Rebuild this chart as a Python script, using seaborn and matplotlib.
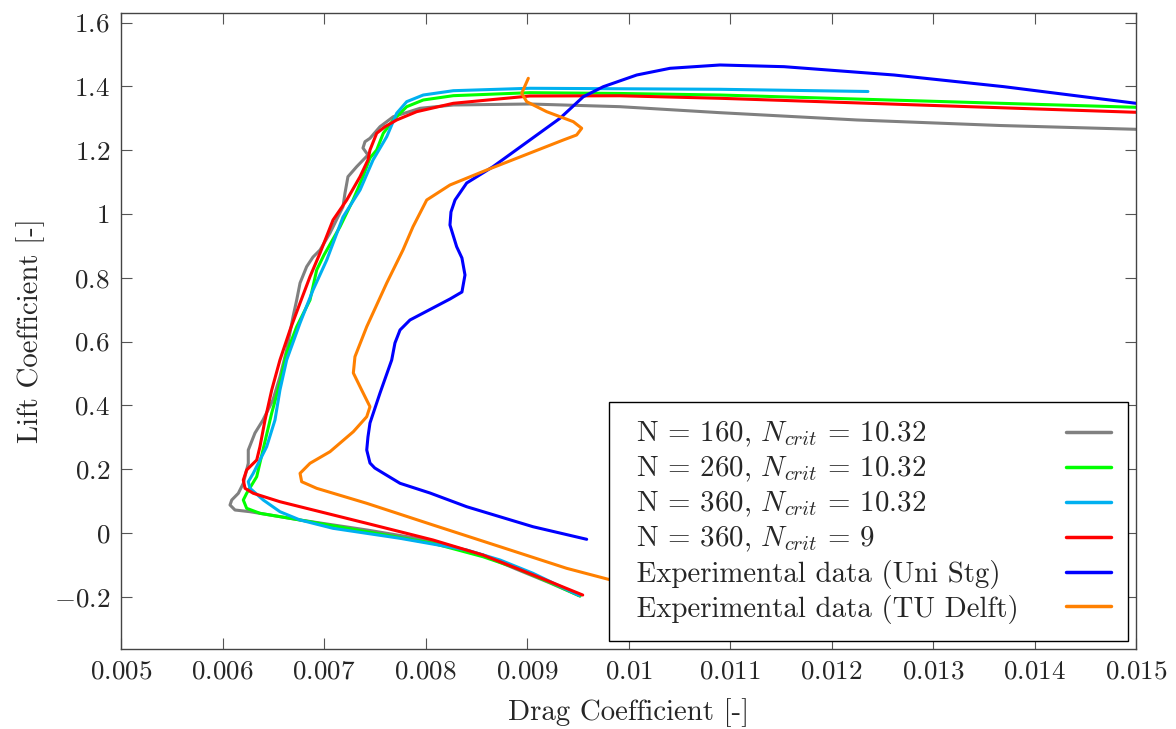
import numpy as np
import pandas as pd
import matplotlib
matplotlib.use("Agg")
import matplotlib.pyplot as plt
import seaborn as sns

# ---------------- data ----------------
labels = [
    r"N = 160, $N_{crit}$ = 10.32",
    r"N = 260, $N_{crit}$ = 10.32",
    r"N = 360, $N_{crit}$ = 10.32",
    r"N = 360, $N_{crit}$ = 9",
    "Experimental data (Uni Stg)",
    "Experimental data (TU Delft)",
]
colors = ["#808080", "#00FF00", "#00B0F0", "#FF0000", "#0000FF", "#FF8000"]

cd_n160 = [0.009522, 0.009227, 0.008892, 0.008566, 0.008074, 0.007424, 0.006764, 0.006271,
           0.006123, 0.006074, 0.006091, 0.006156, 0.006205, 0.006254, 0.006254, 0.006320,
           0.006399, 0.006497, 0.006566, 0.006632, 0.006695, 0.006731, 0.006764, 0.006829,
           0.006892, 0.006961, 0.007059, 0.007187, 0.007207, 0.007236, 0.007322, 0.007433,
           0.007384, 0.007404, 0.007453, 0.007552, 0.007683, 0.007946, 0.008274, 0.009029,
           0.009916, 0.010901, 0.012251, 0.013660, 0.015000, 0.015240]
cl_n160 = [-0.1975, -0.1567, -0.1129, -0.0690, -0.0251, 0.0094, 0.0408, 0.0668,
           0.0721, 0.0878, 0.1034, 0.1245, 0.1558, 0.2185, 0.2602, 0.3135,
           0.3542, 0.4169, 0.4900, 0.5737, 0.6781, 0.7304, 0.7837, 0.8348,
           0.8652, 0.8871, 0.9404, 1.0229, 1.0658, 1.1169, 1.1483, 1.1850,
           1.2069, 1.2267, 1.2373, 1.2737, 1.3050, 1.3313, 1.3417, 1.3448,
           1.3364, 1.3176, 1.2947, 1.2774, 1.2655, 1.2634]

cd_n260 = [0.009522, 0.009227, 0.008892, 0.008566, 0.008074, 0.007421, 0.006764, 0.006369,
           0.006238, 0.006205, 0.006238, 0.006337, 0.006394, 0.006485, 0.006566, 0.006632,
           0.006731, 0.006862, 0.006928, 0.007000, 0.007158, 0.007286, 0.007384, 0.007453,
           0.007519, 0.007584, 0.007683, 0.007815, 0.007978, 0.008274, 0.009029, 0.009916,
           0.010901, 0.015000, 0.015240]
cl_n260 = [-0.1975, -0.1552, -0.1097, -0.0743, -0.0323, 0.0041, 0.0408, 0.0618,
           0.0774, 0.1034, 0.1245, 0.1765, 0.2539, 0.3762, 0.4702, 0.5643,
           0.6467, 0.7304, 0.8245, 0.8715, 0.9602, 1.0439, 1.1169, 1.1756,
           1.2006, 1.2530, 1.2947, 1.3364, 1.3574, 1.3709, 1.3803, 1.3778,
           1.3730, 1.3345, 1.3336]

cd_n360 = [0.009515, 0.009059, 0.008734, 0.008406, 0.007749, 0.007089, 0.006764, 0.006566,
           0.006402, 0.006271, 0.006254, 0.006303, 0.006435, 0.006517, 0.006566, 0.006632,
           0.006764, 0.006892, 0.007027, 0.007187, 0.007355, 0.007483, 0.007618, 0.007716,
           0.007815, 0.007978, 0.008274, 0.009029, 0.010901, 0.012359]
cl_n360 = [-0.1959, -0.1263, -0.0846, -0.0533, -0.0166, 0.0147, 0.0408, 0.0668,
           0.1034, 0.1401, 0.1608, 0.1871, 0.2705, 0.3542, 0.4483, 0.5423,
           0.6583, 0.7618, 0.8558, 0.9906, 1.0752, 1.1693, 1.2423, 1.3157,
           1.3521, 1.3730, 1.3865, 1.3941, 1.3909, 1.3840]

cd_n360_9 = [0.009549, 0.009227, 0.008898, 0.008566, 0.008074, 0.007421, 0.006764, 0.006566,
             0.006303, 0.006222, 0.006205, 0.006238, 0.006337, 0.006369, 0.006419, 0.006485,
             0.006566, 0.006665, 0.006764, 0.006862, 0.006961, 0.007089, 0.007224, 0.007355,
             0.007433, 0.007453, 0.007519, 0.007601, 0.007716, 0.007913, 0.008274, 0.009029,
             0.009916, 0.010901, 0.015000, 0.015240]
cl_n360_9 = [-0.1944, -0.1527, -0.1107, -0.0690, -0.0219, 0.0304, 0.0824, 0.0981,
             0.1245, 0.1401, 0.1661, 0.1975, 0.2288, 0.2705, 0.3542, 0.4483,
             0.5423, 0.6364, 0.7210, 0.8035, 0.8777, 0.9812, 1.0439, 1.1169,
             1.1693, 1.2006, 1.2530, 1.2737, 1.2947, 1.3207, 1.3470, 1.3699,
             1.3706, 1.3627, 1.3188, 1.3173]

cd_stg = [0.009588, 0.009059, 0.008406, 0.008044, 0.007749, 0.007581, 0.007500, 0.007453,
          0.007421, 0.007433, 0.007453, 0.007552, 0.007667, 0.007699, 0.007749, 0.007847,
          0.008241, 0.008359, 0.008389, 0.008359, 0.008307, 0.008241, 0.008251, 0.008291,
          0.008406, 0.008665, 0.009029, 0.009325, 0.009555, 0.009752, 0.010081, 0.010409,
          0.010901, 0.011532, 0.012616, 0.013699, 0.015000, 0.015240]
cl_stg = [-0.0197, 0.0197, 0.0824, 0.1254, 0.1558, 0.1881, 0.2038, 0.2194,
          0.2602, 0.3009, 0.3448, 0.4389, 0.5423, 0.5956, 0.6364, 0.6677,
          0.7335, 0.7555, 0.8088, 0.8621, 0.8975, 0.9655, 1.0063, 1.0439,
          1.0972, 1.1483, 1.2320, 1.3000, 1.3677, 1.3991, 1.4357, 1.4567,
          1.4671, 1.4618, 1.4357, 1.3991, 1.3470, 1.3370]

cd_delft = [0.010113, 0.009827, 0.009391, 0.008734, 0.008074, 0.007421, 0.006928, 0.006780,
            0.006764, 0.006862, 0.007059, 0.007289, 0.007421, 0.007453, 0.007371, 0.007289,
            0.007305, 0.007421, 0.007618, 0.007778, 0.007877, 0.008012, 0.008241, 0.008603,
            0.009358, 0.009489, 0.009539, 0.009456, 0.009194, 0.008997, 0.008948, 0.009013]
cl_delft = [-0.1724, -0.1473, -0.1107, -0.0429, 0.0251, 0.0931, 0.1401, 0.1608,
            0.1871, 0.2185, 0.2549, 0.3176, 0.3646, 0.3959, 0.4483, 0.5016,
            0.5527, 0.6467, 0.7837, 0.8871, 0.9602, 1.0439, 1.0909, 1.1379,
            1.2320, 1.2477, 1.2687, 1.2894, 1.3207, 1.3521, 1.3784, 1.4254]

x_ticks = [0.005, 0.006, 0.007, 0.008, 0.009, 0.010, 0.011, 0.012, 0.013, 0.014, 0.015]
x_tick_labels = ["0.005", "0.006", "0.007", "0.008", "0.009", "0.01",
                 "0.011", "0.012", "0.013", "0.014", "0.015"]
y_ticks = [-0.2, 0.0, 0.2, 0.4, 0.6, 0.8, 1.0, 1.2, 1.4, 1.6]
y_tick_labels = ["-0.2", "0", "0.2", "0.4", "0.6", "0.8", "1", "1.2", "1.4", "1.6"]

series_cd = [cd_n160, cd_n260, cd_n360, cd_n360_9, cd_stg, cd_delft]
series_cl = [cl_n160, cl_n260, cl_n360, cl_n360_9, cl_stg, cl_delft]

# ---------------- style ----------------
sns.set_theme(style="white")
plt.rcParams["font.family"] = ["cmr10", "DejaVu Serif"]
plt.rcParams["mathtext.fontset"] = "cm"
plt.rcParams["axes.formatter.use_mathtext"] = True
plt.rcParams["axes.unicode_minus"] = True

FS_TICK = 19.5
FS_TEXT = 20.8
DPI = 100
fig = plt.figure(figsize=(11.76, 7.29), dpi=DPI)
ax = fig.add_axes([121 / 1176, 80 / 729, 1015 / 1176, 636.3 / 729])

for cd, cl, lab, col in zip(series_cd, series_cl, labels, colors):
    df = pd.DataFrame({"Cd": cd, "Cl": cl})
    sns.lineplot(data=df, x="Cd", y="Cl", sort=False, estimator=None, color=col,
                 linewidth=2.2, label=" " + lab, ax=ax, legend=False)

ax.set_xlim(0.005, 0.015)
ax.set_ylim(-0.3636, 1.631)
ax.set_xticks(x_ticks)
ax.set_xticklabels(["$" + t + "$" for t in x_tick_labels], fontsize=FS_TICK)
ax.set_yticks(y_ticks)
ax.set_yticklabels(["$" + t + "$" for t in y_tick_labels], fontsize=FS_TICK)
ax.tick_params(direction="in", length=8, width=0.8, color="#555555",
               top=True, right=True, bottom=True, left=True, pad=8)
for s in ax.spines.values():
    s.set_color("#444444")
    s.set_linewidth(1.0)

ax.set_xlabel("Drag Coefficient [-]", fontsize=FS_TEXT, labelpad=10.5)
ax.set_ylabel("Lift Coefficient [-]", fontsize=FS_TEXT, labelpad=6.5)

leg = ax.legend(loc="lower right", fontsize=FS_TEXT, markerfirst=False, frameon=True,
                fancybox=False, framealpha=1, edgecolor="black", borderpad=0.62,
                borderaxespad=0.26, handlelength=1.55, handletextpad=1.0,
                labelspacing=0.195)
leg.get_frame().set_linewidth(1.0)
for lh in leg.get_lines():
    lh.set_linewidth(2.5)

# left-align legend texts while keeping the handles in a right-hand column
fig.canvas.draw()
rend = fig.canvas.get_renderer()
dpicor = rend.points_to_pixels(1.0)
column = leg._legend_handle_box.get_children()[0]
rows = column.get_children()
fs_px = FS_TEXT * DPI / 72.0
inner_w = 519 - 2 * 0.62 * fs_px
for row in rows:
    w = sum(c.get_bbox(rend).width for c in row.get_children())
    row.sep = (inner_w - w) / dpicor
column.align = "left"

fig.savefig("out.png", dpi=DPI)
